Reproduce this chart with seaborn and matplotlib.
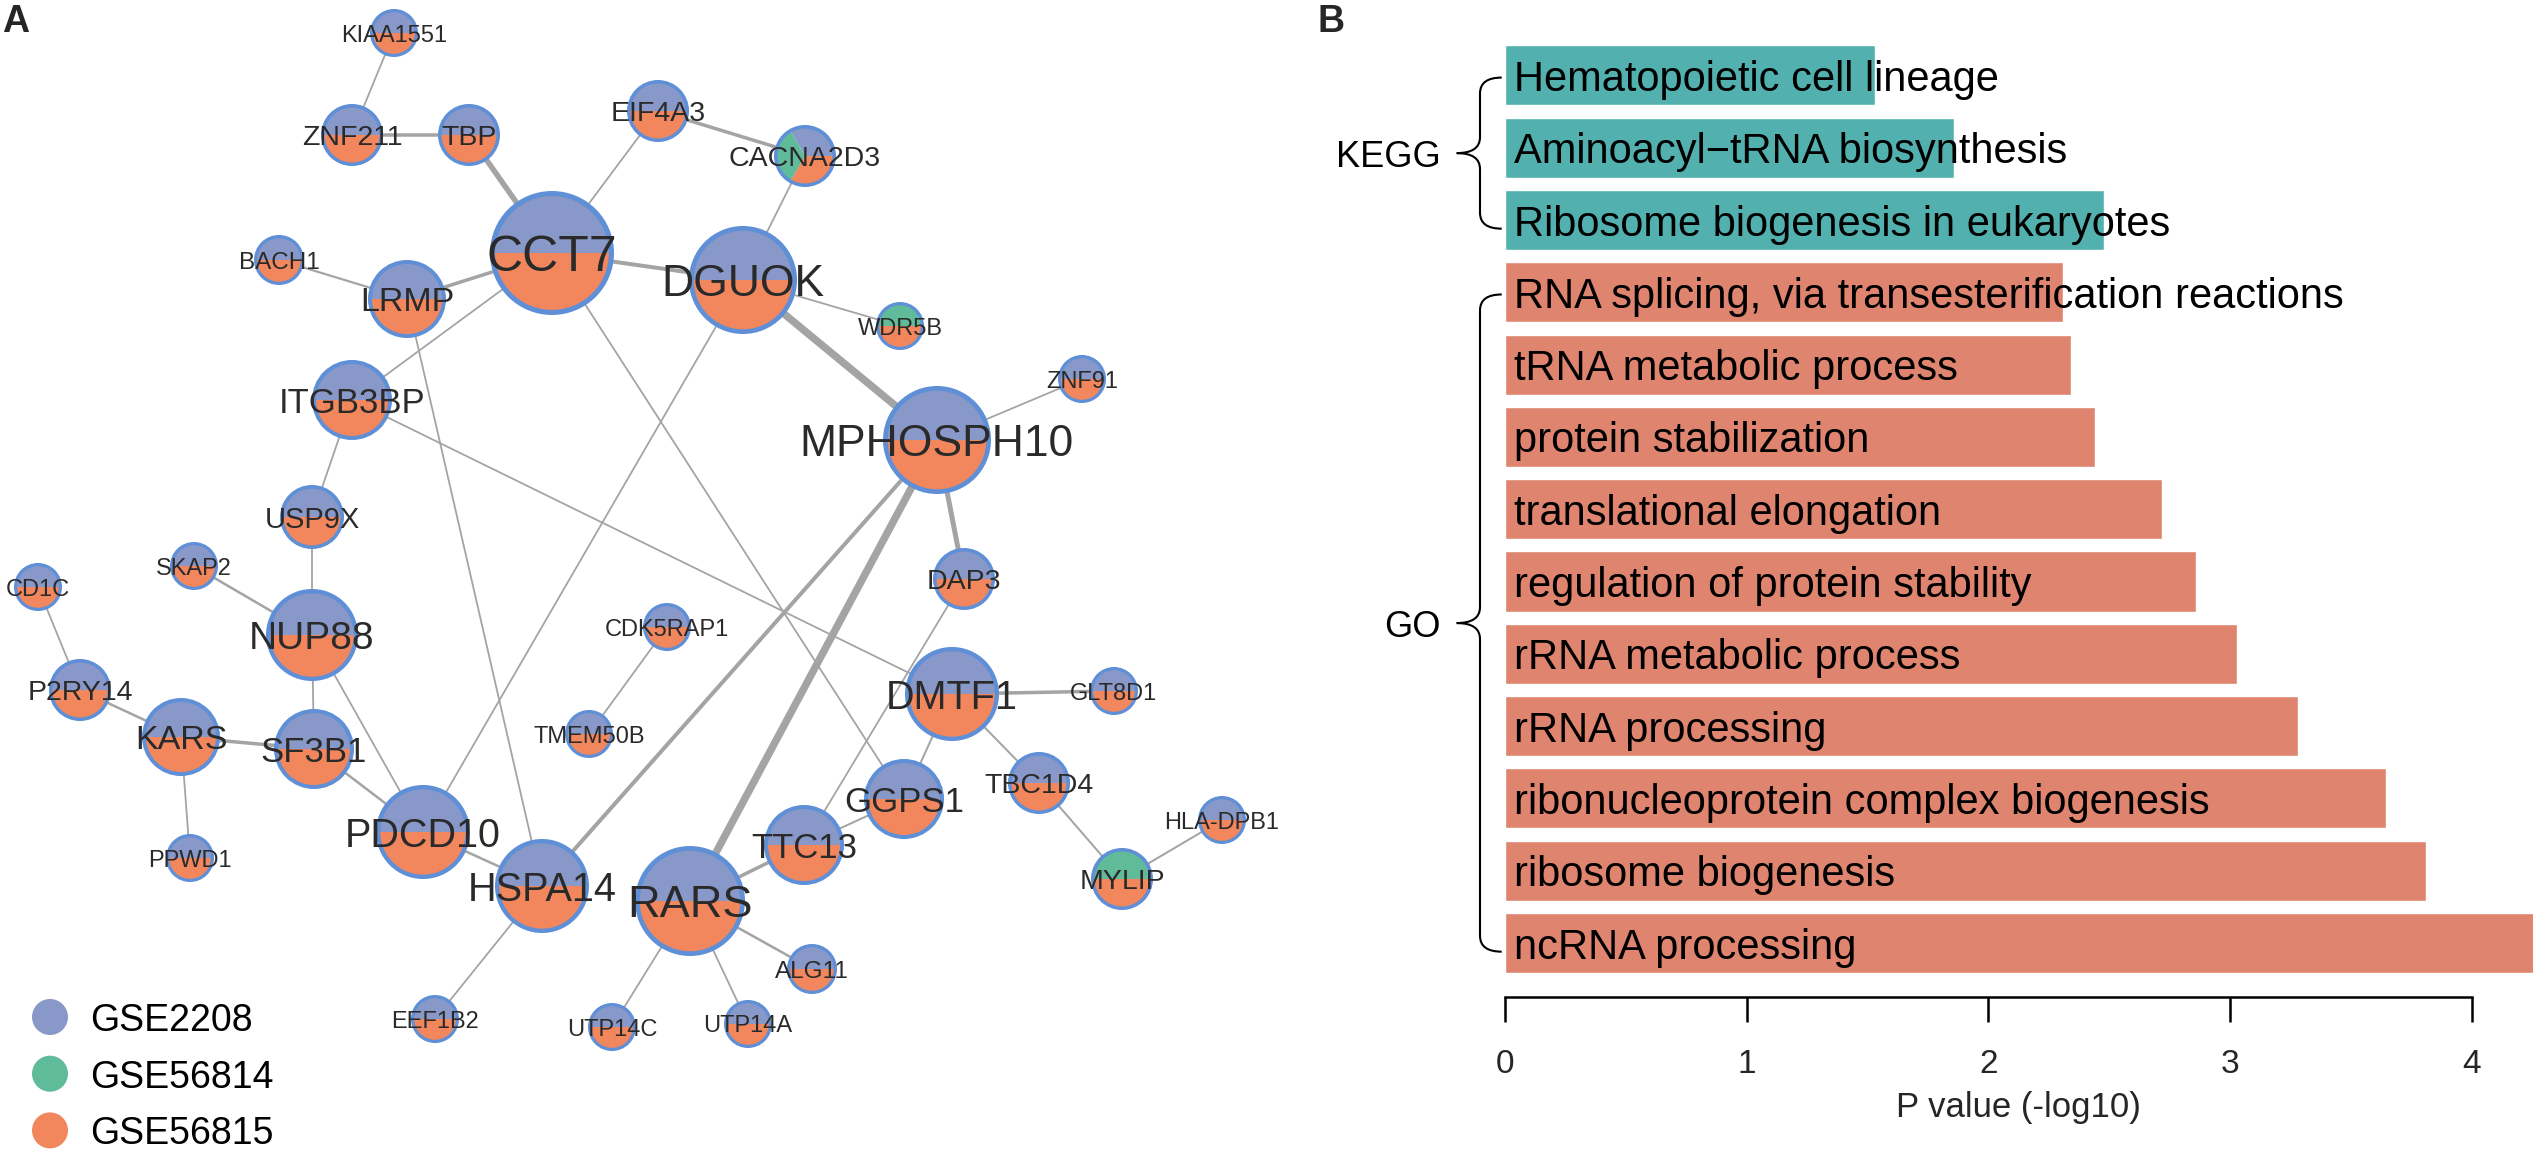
import matplotlib
matplotlib.use("Agg")
import matplotlib.pyplot as plt
from matplotlib.patches import Wedge, Circle, PathPatch
from matplotlib.path import Path
import pandas as pd
import seaborn as sns

# ---- panel A: PPI network (layout position and node radius in px) ----
node_names = ["KIAA1551", "ZNF211", "TBP", "EIF4A3", "CACNA2D3", "CCT7", "DGUOK",
              "BACH1", "LRMP", "WDR5B", "ITGB3BP", "ZNF91", "MPHOSPH10", "USP9X",
              "DAP3", "SKAP2", "CD1C", "NUP88", "CDK5RAP1", "P2RY14", "DMTF1",
              "GLT8D1", "KARS", "SF3B1", "TMEM50B", "TBC1D4", "GGPS1", "PDCD10",
              "HLA-DPB1", "TTC13", "HSPA14", "RARS", "MYLIP", "PPWD1", "ALG11",
              "EEF1B2", "UTP14C", "UTP14A"]
node_x = [394, 352, 469, 658, 805, 552, 743, 279, 407, 900, 352, 1082, 937, 312,
          964, 194, 38, 312, 667, 80, 952, 1114, 181, 314, 589, 1039, 904, 423,
          1222, 804, 542, 690, 1122, 190, 812, 435, 612, 748]
node_y = [33, 135, 135, 111, 156, 253, 280, 260, 299, 326, 400, 379, 440, 517,
          579, 566, 587, 635, 627, 690, 694, 691, 737, 749, 734, 783, 799, 832,
          820, 845, 886, 901, 879, 858, 969, 1019, 1027, 1024]
node_r = [24, 31, 31, 31, 31, 62, 54, 25, 39, 24, 40, 24, 54, 32,
          31, 24, 24, 46, 24, 31, 47, 24, 39, 40, 24, 31, 40, 47,
          24, 40, 47, 55, 31, 24, 25, 24, 24, 24]

# datasets each gene was found in (default: GSE2208 + GSE56815)
special_sets = {
    "CACNA2D3": ["GSE2208", "GSE56814", "GSE56815"],
    "WDR5B": ["GSE56814", "GSE56815"],
    "MYLIP": ["GSE56814", "GSE56815"],
}
default_set = ["GSE2208", "GSE56815"]

edge_a = ["KIAA1551", "ZNF211", "TBP", "EIF4A3", "EIF4A3", "CACNA2D3", "CCT7",
          "BACH1", "LRMP", "CCT7", "DGUOK", "DGUOK", "ZNF91", "ITGB3BP",
          "ITGB3BP", "LRMP", "DGUOK", "CCT7", "MPHOSPH10", "MPHOSPH10",
          "MPHOSPH10", "USP9X", "SKAP2", "CD1C", "NUP88", "NUP88", "P2RY14",
          "KARS", "KARS", "SF3B1", "PDCD10", "CDK5RAP1", "DAP3", "DMTF1",
          "DMTF1", "DMTF1", "TBC1D4", "MYLIP", "GGPS1", "TTC13", "HSPA14",
          "RARS", "RARS", "RARS"]
edge_b = ["ZNF211", "TBP", "CCT7", "CCT7", "CACNA2D3", "DGUOK", "DGUOK",
          "LRMP", "CCT7", "ITGB3BP", "WDR5B", "MPHOSPH10", "MPHOSPH10", "USP9X",
          "DMTF1", "HSPA14", "PDCD10", "GGPS1", "HSPA14", "RARS",
          "DAP3", "NUP88", "NUP88", "P2RY14", "SF3B1", "PDCD10", "KARS",
          "SF3B1", "PPWD1", "PDCD10", "HSPA14", "TMEM50B", "TTC13", "GLT8D1",
          "GGPS1", "TBC1D4", "MYLIP", "HLA-DPB1", "TTC13", "RARS", "EEF1B2",
          "UTP14C", "UTP14A", "ALG11"]
edge_w = [1.8, 3.5, 5.5, 1.8, 3.5, 1.8, 4.0,
          2.2, 3.5, 1.8, 1.8, 7.5, 1.8, 1.8,
          1.8, 1.8, 1.8, 1.8, 4.0, 7.5,
          5.0, 1.8, 2.5, 1.8, 1.8, 1.8, 2.5,
          3.5, 1.8, 2.5, 2.5, 1.8, 1.8, 3.5,
          2.0, 2.0, 2.0, 2.0, 2.0, 3.5, 1.8,
          1.8, 1.8, 2.5]

dataset_names = ["GSE2208", "GSE56814", "GSE56815"]
dataset_colors = ["#8898C8", "#60BB9B", "#F2875E"]

# ---- panel B: enrichment ----
kegg_terms = ["Hematopoietic cell lineage", "Aminoacyl\u2212tRNA biosynthesis",
              "Ribosome biogenesis in eukaryotes"]
kegg_vals = [1.53, 1.86, 2.48]
go_terms = ["RNA splicing, via transesterification reactions",
            "tRNA metabolic process", "protein stabilization",
            "translational elongation", "regulation of protein stability",
            "rRNA metabolic process", "rRNA processing",
            "ribonucleoprotein complex biogenesis", "ribosome biogenesis",
            "ncRNA processing"]
go_vals = [2.31, 2.34, 2.44, 2.72, 2.86, 3.03, 3.28, 3.645, 3.81, 4.3]

W, H = 2533, 1151
sns.set_theme(style="white")
plt.rcParams["font.family"] = ["Liberation Sans", "DejaVu Sans"]

fig = plt.figure(figsize=(W / 100, H / 100), dpi=100)

# ================= panel A =================
ax = fig.add_axes([0, 0, 1300 / W, 1])
ax.set_xlim(0, 1300)
ax.set_ylim(H, 0)
ax.axis("off")

pos = {n: (x, y) for n, x, y in zip(node_names, node_x, node_y)}
colmap = dict(zip(dataset_names, dataset_colors))
border = "#5F8FD6"

for a, b, w in zip(edge_a, edge_b, edge_w):
    (x1, y1), (x2, y2) = pos[a], pos[b]
    ax.plot([x1, x2], [y1, y2], color="#A4A4A4", lw=w * 0.72,
            solid_capstyle="butt", zorder=1)

for name, x, y, r in zip(node_names, node_x, node_y, node_r):
    sets = special_sets.get(name, default_set)
    bw = 2 + 0.05 * r
    span = 360 / len(sets)
    for i, s in enumerate(sets):
        a0 = i * span
        # y axis is inverted, so flip angles to keep slices counter-clockwise on screen
        ax.add_patch(Wedge((x, y), r - bw * 0.5, -(a0 + span), -a0,
                           facecolor=colmap[s], edgecolor="none", zorder=2))
    ax.add_patch(Circle((x, y), r - bw / 2, fill=False, edgecolor=border,
                        lw=bw * 0.72, zorder=3))
    ax.text(x, y, name, ha="center", va="center_baseline",
            fontsize=0.5 * r + 5, color="#2A2A2A", zorder=5)

# legend
for i, (g, c) in enumerate(zip(dataset_names, dataset_colors)):
    ly = 1017 + i * 56.7
    ax.scatter([50], [ly], s=(36 * 0.72) ** 2, color=c, edgecolor="none", zorder=5)
    ax.text(90, ly, g, ha="left", va="center_baseline", fontsize=27, color="black")

fig.text(2 / W, 1 - 32 / H, "A", fontsize=27, fontweight="bold", va="baseline")

# ================= panel B =================
x0_px, unit_px = 1504.7, 241.8
bar0_px, step_px = 75.4, 72.3
axb = fig.add_axes([x0_px / W, 1 - (bar0_px + 12.5 * step_px) / H,
                    1 - x0_px / W, 13 * step_px / H])

df = pd.DataFrame({
    "term": kegg_terms + go_terms,
    "pval": kegg_vals + go_vals,
    "source": ["KEGG"] * len(kegg_terms) + ["GO"] * len(go_terms),
})
sns.barplot(data=df, x="pval", y="term", hue="source", orient="h",
            palette={"KEGG": "#52B1AF", "GO": "#DF846F"}, dodge=False,
            width=0.83, saturation=1, legend=False, ax=axb)

axb.set_xlim(0, (W - x0_px) / unit_px)
axb.set_ylim(12.5, -0.5)
axb.set_yticks([])
axb.set_ylabel("")
for sp in ["left", "top", "right"]:
    axb.spines[sp].set_visible(False)
axb.spines["bottom"].set_position(("outward", 13))
axb.spines["bottom"].set_bounds(0, 4)
axb.spines["bottom"].set_linewidth(1.8)
axb.spines["bottom"].set_color("black")
axb.set_xticks([0, 1, 2, 3, 4])
axb.tick_params(axis="x", bottom=True, length=18, width=1.8, color="black",
                labelsize=24, pad=19, direction="out")
axb.set_xlabel("P value (-log10)", fontsize=25, labelpad=8)

for i, t in enumerate(df["term"]):
    axb.text(0.04, i, t, ha="left", va="center_baseline", fontsize=30,
             color="black", zorder=5)

# curly braces grouping KEGG / GO
x_end = -3.0 / unit_px
x_line = -24.7 / unit_px
x_tip = -48.0 / unit_px
c = 0.22
groups = [("KEGG", 0, len(kegg_terms) - 1),
          ("GO", len(kegg_terms), len(kegg_terms) + len(go_terms) - 1)]
for label, first, last in groups:
    y0, y1 = first + 0.03, last + 0.12
    ym = (y0 + y1) / 2
    verts = [(x_end, y0), (x_line, y0), (x_line, y0 + c),
             (x_line, ym - c), (x_line, ym), (x_tip, ym),
             (x_line, ym), (x_line, ym + c),
             (x_line, y1 - c), (x_line, y1), (x_end, y1)]
    codes = [Path.MOVETO, Path.CURVE3, Path.CURVE3,
             Path.LINETO, Path.CURVE3, Path.CURVE3,
             Path.CURVE3, Path.CURVE3,
             Path.LINETO, Path.CURVE3, Path.CURVE3]
    axb.add_patch(PathPatch(Path(verts, codes), fill=False, lw=1.5,
                            edgecolor="black", clip_on=False))
    axb.text(x_tip - 16 / unit_px, ym, label, ha="right", va="center_baseline",
             fontsize=26, color="black", clip_on=False)

fig.text(1318 / W, 1 - 32 / H, "B", fontsize=27, fontweight="bold", va="baseline")

fig.savefig("out.png", dpi=100, facecolor="white")
